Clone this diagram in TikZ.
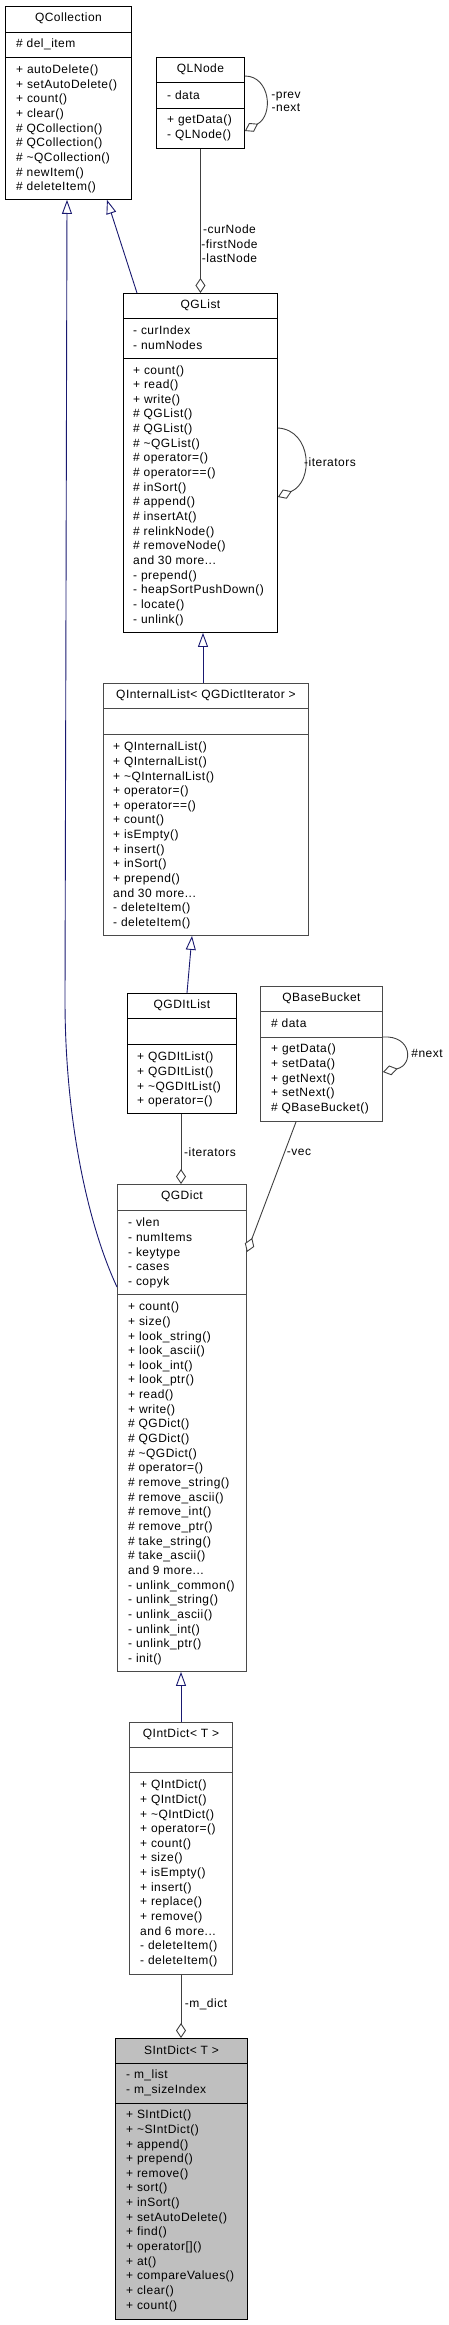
\documentclass[tikz,border=0pt]{standalone}
\usepackage{fontspec}
\setmainfont{Liberation Sans}[LetterSpace=4.0]
\usetikzlibrary{arrows.meta,calc}
\definecolor{midblue}{HTML}{191970}
\definecolor{edgegray}{HTML}{404040}
\definecolor{boxgray}{HTML}{BFBFBF}
\definecolor{bordergray}{HTML}{4A4A4A}
\newcommand\clsfont{\fontsize{12}{14.65}\selectfont}
\newcommand\fr{\rule{0pt}{10pt}}
\tikzset{
  cls/.style={draw=black, line width=0.9pt, fill=white, rectangle, inner sep=0pt, anchor=north west},
  clsg/.style={cls, draw=bordergray},
  sepline/.style={line width=0.9pt},
  ttl/.style={font=\clsfont, inner sep=0pt, anchor=center},
  txt/.style={font=\clsfont, align=left, inner sep=0pt, anchor=north west},
  lbl/.style={font=\clsfont, align=center, inner sep=0pt, anchor=center},
  inh/.style={draw=midblue, line width=0.9pt, -{Triangle[open,fill=white,length=14pt,width=10pt]}},
  agg/.style={draw=edgegray, line width=0.9pt, -{Diamond[open,fill=white,length=15pt,width=10pt]}}
}
\begin{document}
\begin{tikzpicture}[x=1pt,y=-1pt]
\useasboundingbox (0,0) rectangle (449,2325);

% ---------- QCollection ----------
\node[cls, minimum width=126pt, minimum height=193pt] (qcoll) at (5,6) {};
\draw[sepline] ($(qcoll.north west)+(0,26)$) -- ($(qcoll.north east)+(0,26)$);
\draw[sepline] ($(qcoll.north west)+(0,51)$) -- ($(qcoll.north east)+(0,51)$);
\node[ttl] (qcoll-t) at ($(qcoll.north)+(0,12)$) {QCollection};
\node[txt] (qcoll-a) at ($(qcoll.north west)+(11,31)$) {\fr\# del\_item};
\node[txt] (qcoll-m) at ($(qcoll.north west)+(11,57.5)$) {\fr+ autoDelete()\\+ setAutoDelete()\\+ count()\\+ clear()\\\# QCollection()\\\# QCollection()\\\# \textasciitilde QCollection()\\\# newItem()\\\# deleteItem()};

% ---------- QLNode ----------
\node[cls, minimum width=88pt, minimum height=91pt] (qlnode) at (156,57) {};
\draw[sepline] ($(qlnode.north west)+(0,25)$) -- ($(qlnode.north east)+(0,25)$);
\draw[sepline] ($(qlnode.north west)+(0,51)$) -- ($(qlnode.north east)+(0,51)$);
\node[ttl] (qlnode-t) at ($(qlnode.north)+(0,12)$) {QLNode};
\node[txt] (qlnode-a) at ($(qlnode.north west)+(11,32.5)$) {\fr- data};
\node[txt] (qlnode-m) at ($(qlnode.north west)+(11,56.5)$) {\fr+ getData()\\- QLNode()};

% ---------- QGList ----------
\node[cls, minimum width=154pt, minimum height=339pt] (qglist) at (123,293) {};
\draw[sepline] ($(qglist.north west)+(0,25)$) -- ($(qglist.north east)+(0,25)$);
\draw[sepline] ($(qglist.north west)+(0,65)$) -- ($(qglist.north east)+(0,65)$);
\node[ttl] (qglist-t) at ($(qglist.north)+(0,12)$) {QGList};
\node[txt] (qglist-a) at ($(qglist.north west)+(10,31.5)$) {\fr- curIndex\\- numNodes};
\node[txt] (qglist-m) at ($(qglist.north west)+(10,70.8)$) {\fr+ count()\\+ read()\\+ write()\\\# QGList()\\\# QGList()\\\# \textasciitilde QGList()\\\# operator=()\\\# operator==()\\\# inSort()\\\# append()\\\# insertAt()\\\# relinkNode()\\\# removeNode()\\and 30 more...\\- prepend()\\- heapSortPushDown()\\- locate()\\- unlink()};

% ---------- QInternalList ----------
\node[clsg, minimum width=205pt, minimum height=252pt] (qint) at (103,683) {};
\draw[sepline, bordergray] ($(qint.north west)+(0,25)$) -- ($(qint.north east)+(0,25)$);
\draw[sepline, bordergray] ($(qint.north west)+(0,51)$) -- ($(qint.north east)+(0,51)$);
\node[ttl] (qint-t) at ($(qint.north)+(0,12)$) {QInternalList< QGDictIterator >};
\node[txt] (qint-m) at ($(qint.north west)+(10,57.5)$) {\fr+ QInternalList()\\+ QInternalList()\\+ \textasciitilde QInternalList()\\+ operator=()\\+ operator==()\\+ count()\\+ isEmpty()\\+ insert()\\+ inSort()\\+ prepend()\\and 30 more...\\- deleteItem()\\- deleteItem()};

% ---------- QGDItList ----------
\node[cls, minimum width=109pt, minimum height=120pt] (qgdit) at (127,993) {};
\draw[sepline] ($(qgdit.north west)+(0,25)$) -- ($(qgdit.north east)+(0,25)$);
\draw[sepline] ($(qgdit.north west)+(0,51)$) -- ($(qgdit.north east)+(0,51)$);
\node[ttl] (qgdit-t) at ($(qgdit.north)+(0,12)$) {QGDItList};
\node[txt] (qgdit-m) at ($(qgdit.north west)+(10,57.5)$) {\fr+ QGDItList()\\+ QGDItList()\\+ \textasciitilde QGDItList()\\+ operator=()};

% ---------- QBaseBucket ----------
\node[clsg, minimum width=122pt, minimum height=135pt] (qbb) at (260,986) {};
\draw[sepline, bordergray] ($(qbb.north west)+(0,25)$) -- ($(qbb.north east)+(0,25)$);
\draw[sepline, bordergray] ($(qbb.north west)+(0,51)$) -- ($(qbb.north east)+(0,51)$);
\node[ttl] (qbb-t) at ($(qbb.north)+(0,12)$) {QBaseBucket};
\node[txt] (qbb-a) at ($(qbb.north west)+(11,31.5)$) {\fr\# data};
\node[txt] (qbb-m) at ($(qbb.north west)+(11,56.5)$) {\fr+ getData()\\+ setData()\\+ getNext()\\+ setNext()\\\# QBaseBucket()};

% ---------- QGDict ----------
\node[clsg, minimum width=129pt, minimum height=487pt] (qgdict) at (117,1184) {};
\draw[sepline, bordergray] ($(qgdict.north west)+(0,26)$) -- ($(qgdict.north east)+(0,26)$);
\draw[sepline, bordergray] ($(qgdict.north west)+(0,110)$) -- ($(qgdict.north east)+(0,110)$);
\node[ttl] (qgdict-t) at ($(qgdict.north)+(0,12)$) {QGDict};
\node[txt] (qgdict-a) at ($(qgdict.north west)+(11,32.5)$) {\fr- vlen\\- numItems\\- keytype\\- cases\\- copyk};
\node[txt] (qgdict-m) at ($(qgdict.north west)+(11,116.5)$) {\fr+ count()\\+ size()\\+ look\_string()\\+ look\_ascii()\\+ look\_int()\\+ look\_ptr()\\+ read()\\+ write()\\\# QGDict()\\\# QGDict()\\\# \textasciitilde QGDict()\\\# operator=()\\\# remove\_string()\\\# remove\_ascii()\\\# remove\_int()\\\# remove\_ptr()\\\# take\_string()\\\# take\_ascii()\\and 9 more...\\- unlink\_common()\\- unlink\_string()\\- unlink\_ascii()\\- unlink\_int()\\- unlink\_ptr()\\- init()};

% ---------- QIntDict ----------
\node[clsg, minimum width=103pt, minimum height=252pt] (qintdict) at (129,1722) {};
\draw[sepline, bordergray] ($(qintdict.north west)+(0,25)$) -- ($(qintdict.north east)+(0,25)$);
\draw[sepline, bordergray] ($(qintdict.north west)+(0,50)$) -- ($(qintdict.north east)+(0,50)$);
\node[ttl] (qintdict-t) at ($(qintdict.north)+(0,12)$) {QIntDict< T >};
\node[txt] (qintdict-m) at ($(qintdict.north west)+(11,56.5)$) {\fr+ QIntDict()\\+ QIntDict()\\+ \textasciitilde QIntDict()\\+ operator=()\\+ count()\\+ size()\\+ isEmpty()\\+ insert()\\+ replace()\\+ remove()\\and 6 more...\\- deleteItem()\\- deleteItem()};

% ---------- SIntDict ----------
\node[cls, fill=boxgray, minimum width=132pt, minimum height=281pt] (sint) at (115,2038) {};
\draw[sepline] ($(sint.north west)+(0,25)$) -- ($(sint.north east)+(0,25)$);
\draw[sepline] ($(sint.north west)+(0,65)$) -- ($(sint.north east)+(0,65)$);
\node[ttl] (sint-t) at ($(sint.north)+(0,12)$) {SIntDict< T >};
\node[txt] (sint-a) at ($(sint.north west)+(11,30.5)$) {\fr- m\_list\\- m\_sizeIndex};
\node[txt] (sint-m) at ($(sint.north west)+(11,70.5)$) {\fr+ SIntDict()\\+ \textasciitilde SIntDict()\\+ append()\\+ prepend()\\+ remove()\\+ sort()\\+ inSort()\\+ setAutoDelete()\\+ find()\\+ operator[]()\\+ at()\\+ compareValues()\\+ clear()\\+ count()};

% ---------- inheritance ----------
\draw[inh] ($(qglist.north west)+(14,0)$) -- ($(qcoll.south west)+(102,0)$);
\draw[inh] ($(qgdict.north west)+(0,103)$) .. controls (88,1225) and (65,1120) .. (65,1000) -- ($(qcoll.south west)+(62,0)$);
\draw[inh] ($(qint.north west)+(100,0)$) -- ($(qglist.south west)+(80,0)$);
\draw[inh] ($(qgdit.north west)+(60,0)$) -- ($(qint.south west)+(89,0)$);
\draw[inh] ($(qintdict.north west)+(52,0)$) -- ($(qgdict.south west)+(64,0)$);

% ---------- aggregation ----------
\draw[agg] (qlnode.south) -- (qglist.north);
\draw[agg] ($(qgdit.south west)+(54,0)$) -- ($(qgdict.north west)+(64,0)$);
\draw[agg] ($(qbb.south west)+(36,0)$) -- ($(qgdict.north east)+(0,68)$);
\draw[agg] ($(qintdict.south west)+(52,0)$) -- ($(sint.north west)+(66,0)$);
\draw[agg] ($(qlnode.north east)+(0,19)$) .. controls (270,76) and (274,115) .. ($(qlnode.north east)+(0,74)$);
\draw[agg] ($(qglist.north east)+(0,135)$) .. controls (312,430) and (314,482) .. ($(qglist.north east)+(0,204)$);
\draw[agg] ($(qbb.north east)+(0,51)$) .. controls (412,1035) and (414,1065) .. ($(qbb.north east)+(0,86)$);

% ---------- labels ----------
\node[lbl, font=\fontsize{12}{13.3}\selectfont] (l-prev) at (286,101.5) {-prev\\-next};
\node[lbl] (l-cur) at (229.5,244) {-curNode\\-firstNode\\-lastNode};
\node[lbl] (l-it1) at (330,462) {-iterators};
\node[lbl] (l-next) at (427,1053) {\#next};
\node[lbl] (l-it2) at (210,1152) {-iterators};
\node[lbl] (l-vec) at (299,1152) {-vec};
\node[lbl] (l-md) at (206,2004) {-m\_dict};
\end{tikzpicture}
\end{document}
